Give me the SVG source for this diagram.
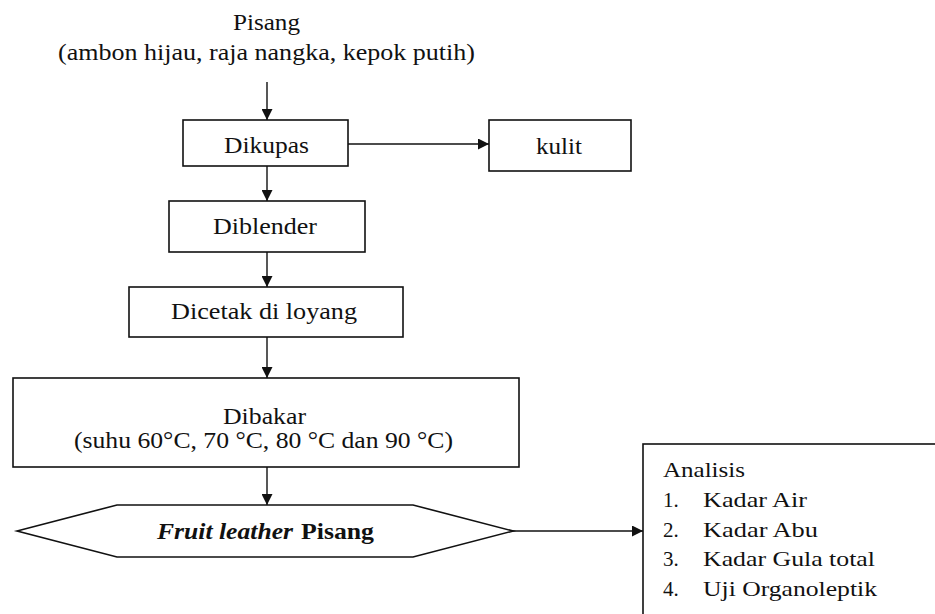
<svg xmlns="http://www.w3.org/2000/svg" width="935" height="614" viewBox="0 0 935 614">
<defs>
<style>
.box{fill:#fff;stroke:#111;stroke-width:1.6;}
.edge{stroke:#111;stroke-width:1.4;fill:none;marker-end:url(#ah);}
</style>
<marker id="ah" viewBox="0 0 10 10" refX="10" refY="5" markerWidth="11" markerHeight="11" markerUnits="userSpaceOnUse" orient="auto">
<path d="M0,0 L10,5 L0,10 z" fill="#111"/>
</marker>
</defs>
<rect width="935" height="614" fill="#fff"/>
<g id="connectors">
<line class="edge" x1="267" y1="82" x2="267" y2="120"/>
<line class="edge" x1="348" y1="144" x2="489" y2="144"/>
<line class="edge" x1="267" y1="166" x2="267" y2="201"/>
<line class="edge" x1="267" y1="252" x2="267" y2="287"/>
<line class="edge" x1="267" y1="337" x2="267" y2="378"/>
<line class="edge" x1="267" y1="467" x2="267" y2="505"/>
<line class="edge" x1="513" y1="531" x2="643" y2="531"/>
</g>
<g id="pisang">
<text font-family="Liberation Serif" font-size="24" fill="#111" x="233" y="30" textLength="67" lengthAdjust="spacingAndGlyphs">Pisang</text>
<text font-family="Liberation Serif" font-size="24" fill="#111" x="58" y="60" textLength="417" lengthAdjust="spacingAndGlyphs">(ambon hijau, raja nangka, kepok putih)</text>
</g>
<g id="dikupas">
<rect class="box" x="183" y="120" width="165" height="46"/>
<text font-family="Liberation Serif" font-size="24" fill="#111" x="224" y="153" textLength="85" lengthAdjust="spacingAndGlyphs">Dikupas</text>
</g>
<g id="kulit">
<rect class="box" x="489" y="120" width="142" height="51"/>
<text font-family="Liberation Serif" font-size="24" fill="#111" x="536" y="154" textLength="46" lengthAdjust="spacingAndGlyphs">kulit</text>
</g>
<g id="diblender">
<rect class="box" x="169" y="201" width="196" height="51"/>
<text font-family="Liberation Serif" font-size="24" fill="#111" x="213" y="234" textLength="104" lengthAdjust="spacingAndGlyphs">Diblender</text>
</g>
<g id="dicetak">
<rect class="box" x="129" y="287" width="274" height="50"/>
<text font-family="Liberation Serif" font-size="24" fill="#111" x="171" y="319" textLength="186" lengthAdjust="spacingAndGlyphs">Dicetak di loyang</text>
</g>
<g id="dibakar">
<rect class="box" x="13" y="378" width="506" height="89"/>
<text font-family="Liberation Serif" font-size="24" fill="#111" x="223" y="424" textLength="83" lengthAdjust="spacingAndGlyphs">Dibakar</text>
<text font-family="Liberation Serif" font-size="24" fill="#111" x="74" y="448" textLength="379" lengthAdjust="spacingAndGlyphs">(suhu 60°C, 70 °C, 80 °C dan 90 °C)</text>
</g>
<g id="fruit-leather">
<polygon class="box" points="17,531 117,505 413,505 513,531 413,557 117,557"/>
<text font-family="Liberation Serif" font-size="24" fill="#111" x="157" y="539" font-weight="bold" font-style="italic" textLength="136" lengthAdjust="spacingAndGlyphs">Fruit leather</text>
<text font-family="Liberation Serif" font-size="24" fill="#111" x="301" y="539" font-weight="bold" textLength="73" lengthAdjust="spacingAndGlyphs">Pisang</text>
</g>
<g id="analisis">
<rect class="box" x="643" y="444" width="320" height="200"/>
<text font-family="Liberation Serif" font-size="21" fill="#111" x="663" y="477" textLength="82" lengthAdjust="spacingAndGlyphs">Analisis</text>
<text font-family="Liberation Serif" font-size="21" fill="#111" x="663" y="507">1.</text>
<text font-family="Liberation Serif" font-size="21" fill="#111" x="703" y="507" textLength="104" lengthAdjust="spacingAndGlyphs">Kadar Air</text>
<text font-family="Liberation Serif" font-size="21" fill="#111" x="663" y="537">2.</text>
<text font-family="Liberation Serif" font-size="21" fill="#111" x="703" y="537" textLength="115" lengthAdjust="spacingAndGlyphs">Kadar Abu</text>
<text font-family="Liberation Serif" font-size="21" fill="#111" x="663" y="566">3.</text>
<text font-family="Liberation Serif" font-size="21" fill="#111" x="703" y="566" textLength="172" lengthAdjust="spacingAndGlyphs">Kadar Gula total</text>
<text font-family="Liberation Serif" font-size="21" fill="#111" x="663" y="596">4.</text>
<text font-family="Liberation Serif" font-size="21" fill="#111" x="703" y="596" textLength="174" lengthAdjust="spacingAndGlyphs">Uji Organoleptik</text>
</g>
</svg>
